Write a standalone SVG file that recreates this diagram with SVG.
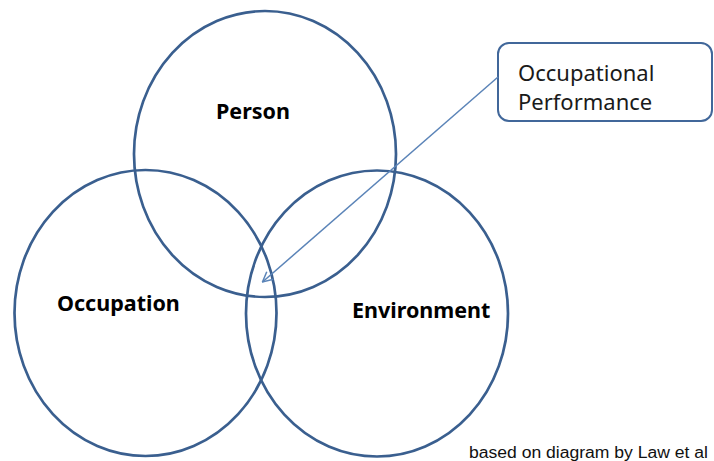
<svg xmlns="http://www.w3.org/2000/svg" width="714" height="461" viewBox="0 0 714 461">
<style>
.circ{fill:none;stroke:#3A5F8F;stroke-width:2.7}
.lbl{font-family:"Noto Sans","Open Sans",sans-serif;font-weight:bold;font-size:21.5px;fill:#000}
.call{font-family:"Noto Sans","Open Sans",sans-serif;font-size:22px;fill:#1a1a1a}
.note{font-family:"Liberation Sans",Arial,sans-serif;font-size:16px;fill:#111}
</style>
<defs>
<marker id="open" viewBox="0 0 12 12" refX="11" refY="6" markerWidth="12" markerHeight="12" markerUnits="userSpaceOnUse" orient="auto">
<path d="M1,1 L11,6 L1,11" fill="none" stroke="#5B84B8" stroke-width="1.5"/>
</marker>
</defs>
<rect width="714" height="461" fill="#fff"/>
<g id="person">
<ellipse class="circ" cx="265" cy="154" rx="131" ry="143"/>
<text class="lbl" x="216" y="119">Person</text>
</g>
<g id="occupation">
<ellipse class="circ" cx="145.5" cy="313" rx="131" ry="143"/>
<text class="lbl" x="57" y="311">Occupation</text>
</g>
<g id="environment">
<ellipse class="circ" cx="377" cy="313.5" rx="131" ry="143"/>
<text class="lbl" x="352" y="318">Environment</text>
</g>
<g id="occupational-performance">
<rect x="498" y="43" width="214" height="78" rx="11" ry="11" fill="#fff" stroke="#41679A" stroke-width="2"/>
<text class="call" x="518" y="81">Occupational</text>
<text class="call" x="518" y="110">Performance</text>
</g>
<g id="connectors">
<line x1="498" y1="77" x2="262.5" y2="282" stroke="#5B84B8" stroke-width="1.5" marker-end="url(#open)"/>
</g>
<text class="note" x="469" y="458" textLength="239" lengthAdjust="spacingAndGlyphs">based on diagram by Law et al</text>
</svg>
